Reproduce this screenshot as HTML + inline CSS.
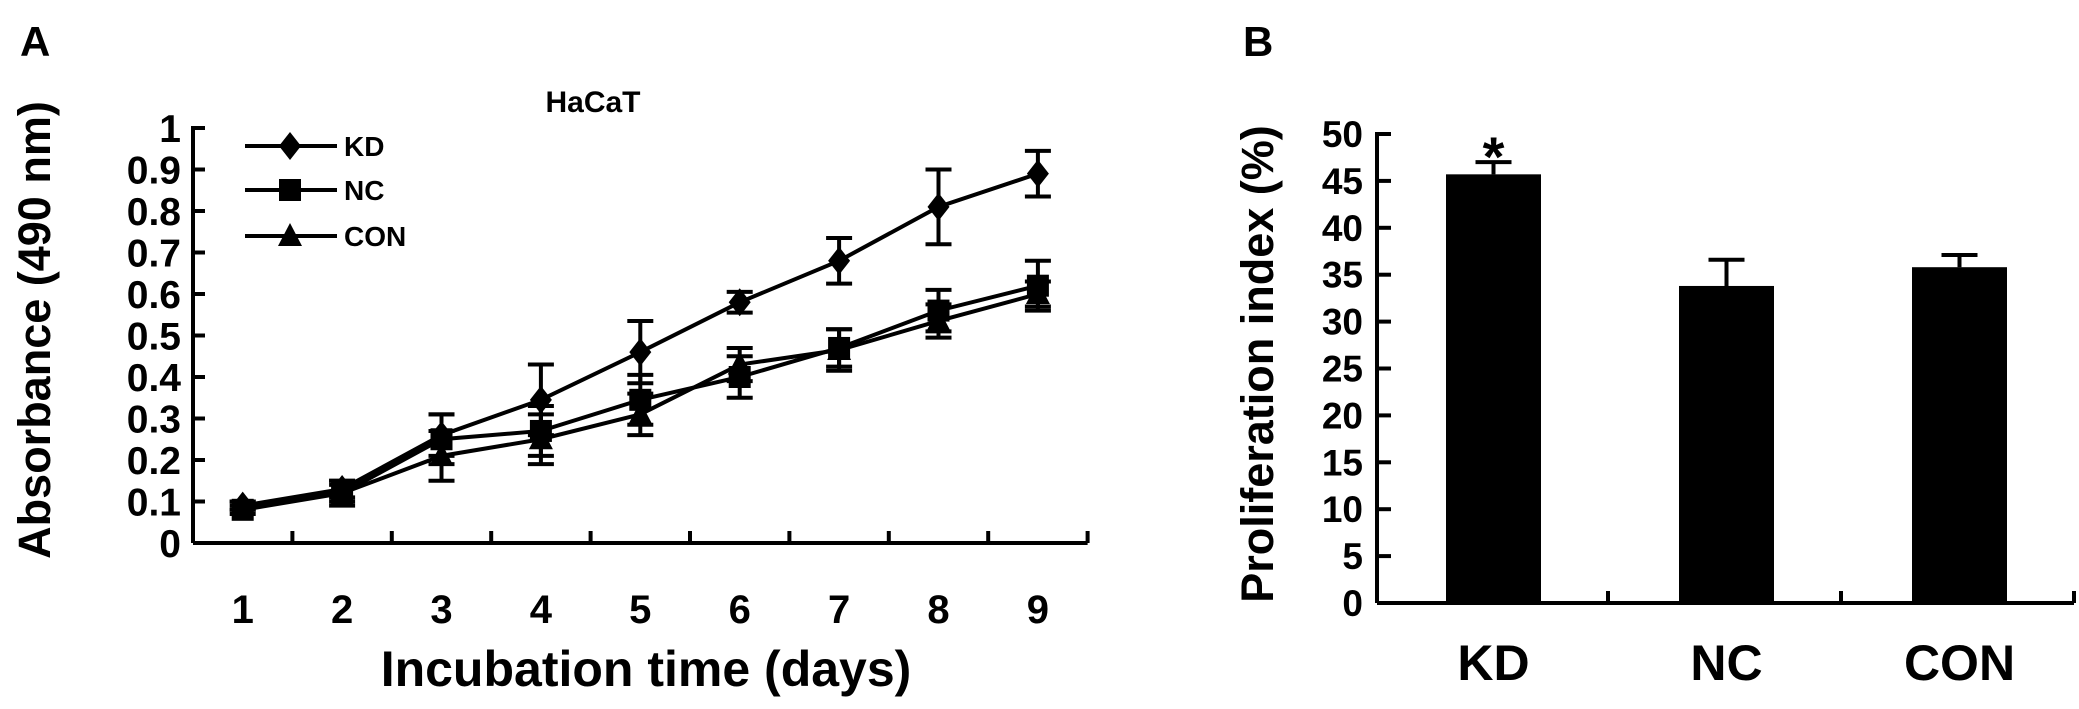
<!DOCTYPE html>
<html><head><meta charset="utf-8"><style>
html,body{margin:0;padding:0;background:#fff;width:2079px;height:709px;overflow:hidden}
svg text{font-family:"Liberation Sans Narrow","Liberation Sans",sans-serif;font-weight:bold;fill:#000}
</style></head><body>
<svg id="fig" width="2079" height="709" viewBox="0 0 2079 709" xmlns="http://www.w3.org/2000/svg">
<text x="20" y="56" font-size="42" font-family="Liberation Sans">A</text>
<text x="1243" y="56" font-size="42" font-family="Liberation Sans">B</text>
<text x="593" y="112" font-size="30" text-anchor="middle">HaCaT</text>
<text transform="translate(50,330) rotate(-90)" font-size="45" text-anchor="middle" font-family="Liberation Sans">Absorbance (490 nm)</text>
<text x="646" y="686" font-size="50" text-anchor="middle">Incubation time (days)</text>
<text transform="translate(1273,364) rotate(-90)" font-size="45" text-anchor="middle" font-family="Liberation Sans">Proliferation index (%)</text>
<g id="ga"></g>
<g id="gb"></g>
</svg>
<script>
const days=[1,2,3,4,5,6,7,8,9];
const yTicksA=[0,0.1,0.2,0.3,0.4,0.5,0.6,0.7,0.8,0.9,1];
const yTickLabelsA=["0","0.1","0.2","0.3","0.4","0.5","0.6","0.7","0.8","0.9","1"];
const kdVals=[0.09,0.13,0.26,0.345,0.46,0.58,0.68,0.81,0.89];
const kdErr=[0.01,0.02,0.05,0.085,0.075,0.025,0.055,0.09,0.055];
const ncVals=[0.08,0.12,0.25,0.27,0.345,0.40,0.47,0.56,0.62];
const ncErr=[0.01,0.03,0.06,0.06,0.06,0.05,0.045,0.05,0.06];
const conVals=[0.09,0.12,0.21,0.25,0.31,0.43,0.465,0.535,0.60];
const conErr=[0.01,0.02,0.06,0.06,0.05,0.04,0.05,0.04,0.03];
const groups=["KD","NC","CON"];
const barVals=[45.7,33.8,35.8];
const barErr=[1.3,2.8,1.3];
const yTicksB=[0,5,10,15,20,25,30,35,40,45,50];

const NS="http://www.w3.org/2000/svg";
function mk(parent,tag,attrs,text){const e=document.createElementNS(NS,tag);for(const k in attrs)e.setAttribute(k,attrs[k]);if(text!==undefined)e.textContent=text;parent.appendChild(e);return e;}
const SW=4;
// Panel A
const ga=document.getElementById('ga');
const ax0=193,band=99.4,ay0=543,ay1=128;
const xA=i=>ax0+band*(i+0.5);
const yA=v=>ay0+(ay1-ay0)*v;
let ln=mk(ga,'line',{x1:ax0,y1:ay1-2,x2:ax0,y2:ay0,stroke:'#000','stroke-width':SW});


ln=mk(ga,'line',{x1:ax0,y1:ay0,x2:ax0+band*9,y2:ay0,stroke:'#000','stroke-width':SW});


yTicksA.forEach((t,i)=>{
  mk(ga,'line',{x1:ax0,y1:yA(t),x2:ax0+12,y2:yA(t),stroke:'#000','stroke-width':SW});
  const tx=mk(ga,'text',{x:ax0-12,y:yA(t)+14,'font-size':39,'text-anchor':'end'},yTickLabelsA[i]);
  
  
});
for(let i=0;i<=9;i++){mk(ga,'line',{x1:ax0+band*i,y1:ay0,x2:ax0+band*i,y2:ay0-12,stroke:'#000','stroke-width':SW});}
days.forEach((d,i)=>{
  const tx=mk(ga,'text',{x:xA(i),y:623,'font-size':40,'text-anchor':'middle'},String(d));
  
  
});
function marker(g,type,x,y){
  if(type==='d')return mk(g,'polygon',{points:`${x},${y-14} ${x+11},${y} ${x},${y+14} ${x-11},${y}`,fill:'#000'});
  if(type==='s')return mk(g,'rect',{x:x-11,y:y-11,width:22,height:22,fill:'#000'});
  return mk(g,'polygon',{points:`${x},${y-13} ${x+12},${y+10} ${x-12},${y+10}`,fill:'#000'});
}
const series=[[kdVals,kdErr,'d','kd'],[ncVals,ncErr,'s','nc'],[conVals,conErr,'t','con']];
series.forEach(([vals,errs,m,name])=>{
  const g=mk(ga,'g',{});
  
  
  const p=mk(g,'polyline',{points:vals.map((v,i)=>xA(i)+','+yA(v)).join(' '),fill:'none',stroke:'#000','stroke-width':SW});
  
  
  vals.forEach((v,i)=>{
    const x=xA(i),t=yA(v+errs[i]),b=yA(v-errs[i]);
    mk(g,'path',{d:`M${x},${t}V${b}M${x-13},${t}H${x+13}M${x-13},${b}H${x+13}`,stroke:'#000','stroke-width':SW,fill:'none'});
    const mm=marker(g,m,x,yA(v));
    
    
  });
});
// legend
[['KD','d',146],['NC','s',190],['CON','t',236]].forEach(([lab,m,y])=>{
  const g=mk(ga,'g',{});
  
  
  mk(g,'line',{x1:245,y1:y,x2:337,y2:y,stroke:'#000','stroke-width':SW});
  marker(g,m,290,y);
  mk(g,'text',{x:344,y:y+10,'font-size':28},lab);
});

// Panel B
const gb=document.getElementById('gb');
const bx0=1377,bband=233,by0=603,by1=134,bw=95;
const xB=i=>bx0+bband*(i+0.5);
const yB=v=>by0+(by1-by0)*v/50;
ln=mk(gb,'line',{x1:bx0,y1:by1-2,x2:bx0,y2:by0,stroke:'#000','stroke-width':SW});


ln=mk(gb,'line',{x1:bx0,y1:by0,x2:bx0+bband*3-2,y2:by0,stroke:'#000','stroke-width':SW});


for(let i=1;i<=3;i++){mk(gb,'line',{x1:bx0+bband*i-2,y1:by0,x2:bx0+bband*i-2,y2:by0-12,stroke:'#000','stroke-width':SW});}
yTicksB.forEach(t=>{
  mk(gb,'line',{x1:bx0,y1:yB(t),x2:bx0+14,y2:yB(t),stroke:'#000','stroke-width':SW});
  const tx=mk(gb,'text',{x:bx0-14,y:yB(t)+13,'font-size':37,'text-anchor':'end'},String(t));
  
  
});
groups.forEach((gname,i)=>{
  const x=xB(i);
  const r=mk(gb,'rect',{x:x-bw/2,y:yB(barVals[i]),width:bw,height:by0-yB(barVals[i]),fill:'#000'});
  
  
  const et=yB(barVals[i]+barErr[i]);
  const e=mk(gb,'path',{d:`M${x},${yB(barVals[i])}V${et}M${x-18},${et}H${x+18}`,stroke:'#000','stroke-width':SW,fill:'none'});
  
  
  const tx=mk(gb,'text',{x:x,y:680,'font-size':50,'text-anchor':'middle'},gname);
  
  
});
const st=mk(gb,'text',{x:xB(0),y:yB(barVals[0]+barErr[0])+14,'font-size':56,'text-anchor':'middle','font-weight':'normal'},'*');


</script>
</body></html>
